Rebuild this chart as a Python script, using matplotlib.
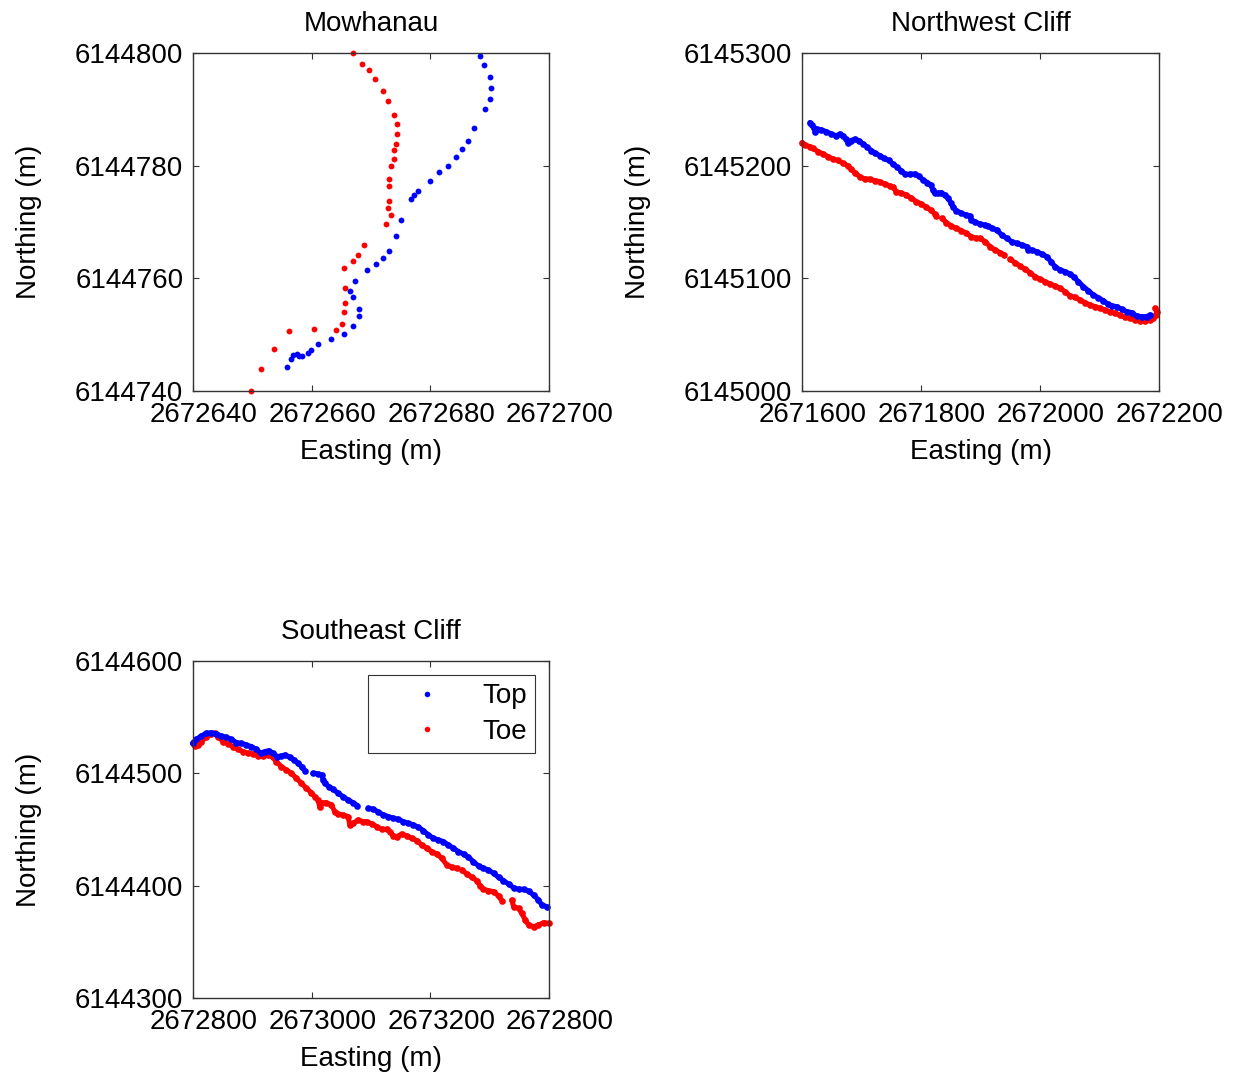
"""
Cliff top / toe positions at three sites (Mowhanau, Northwest and Southeast cliffs).
"""
import numpy as np
import matplotlib
matplotlib.use("Agg")
import matplotlib.pyplot as plt
import matplotlib.transforms as mtransforms
from matplotlib.lines import Line2D

plt.rcParams["font.family"] = ["Liberation Sans", "DejaVu Sans"]
FS = 20
AX_C = "#333333"
TOP_C = "#0000ff"
TOE_C = "#ff0000"
nan = np.nan

# ── Mowhanau (offsets from 2672640 E / 6144740 N) ─────────────────────────
MOW_E0, MOW_N0 = 2672640, 6144740
mow_top_e = [48.3, 49.0, 50.0, 50.3, 50.1, 49.2, 47.4, 46.3, 45.4, 44.3,
             42.9, 41.4, 40.0, 37.9, 37.2, 36.7, 35.1, 34.2, 33.0, 32.0,
             30.8, 29.4, 27.3, 26.4, 26.9, 28.0, 28.0, 27.0, 25.5, 23.2,
             21.1, 19.9, 19.3, 18.3, 17.8, 17.5, 16.9, 16.5, 15.8]
mow_top_n = [59.4, 57.8, 55.7, 53.8, 51.9, 50.0, 46.6, 44.3, 43.0, 41.5,
             40.0, 38.8, 37.3, 35.5, 34.8, 34.0, 30.4, 27.5, 24.9, 23.6,
             22.6, 21.5, 19.5, 17.7, 16.6, 14.6, 13.4, 11.5, 10.2, 9.2,
             8.4, 7.3, 6.7, 6.2, 6.2, 6.6, 6.4, 5.6, 4.2]
mow_toe_e = [26.9, 28.4, 29.7, 30.7, 32.1, 32.9, 33.8, 34.3, 34.3, 34.2,
             33.9, 33.8, 33.3, 33.0, 33.0, 33.0, 32.9, 33.4, 32.5, 28.8,
             27.8, 27.0, 25.4, 25.7, 25.7, 25.5, 25.1, 24.1, 20.4, 16.2,
             13.6, 11.5, 9.7]
mow_toe_n = [60.0, 58.1, 57.0, 55.3, 53.3, 51.5, 49.0, 47.4, 45.6, 43.9,
             42.7, 41.2, 40.0, 37.6, 36.4, 33.7, 32.4, 31.3, 29.6, 25.9,
             24.2, 23.0, 21.9, 18.3, 15.7, 14.0, 11.9, 10.9, 11.0, 10.7,
             7.4, 3.9, 0.0]

# ── Northwest Cliff (offsets from 2671600 E / 6145000 N) ──────────────────
NW_E0, NW_N0 = 2671600, 6145000
nw_top_e = [13.4, 16.8, 20.2, 22.4, 25.8, 32.5, 40.9, 49.3, 57.7, 63.3,
            68.9, 74.5, 77.3, 81.8, 88.5, 95.2, 102.5, 109.8, 116.5, 123.2,
            130.5, 137.8, 145.7, 152.9, 160.2, 166.9, 173.7, 181.0, 189.4, 196.1,
            203.4, 210.6, 216.3, 220.2, 223.0, 228.6, 234.2, 239.8, 245.4, 249.9,
            253.8, 259.4, 267.8, 276.2, 281.8, 284.6, 290.2, 298.6, 307.0, 312.6,
            318.8, 327.2, 335.6, 344.0, 352.4, 360.8, 369.2, 377.6, 380.4, 386.0,
            394.4, 402.8, 411.2, 418.5, 425.2, 433.6, 442.0, 450.4, 457.7, 464.4,
            472.8, 481.2, 489.6, 498.0, 506.4, 513.7, 520.5, 528.9, 537.3, 545.7,
            554.1, 562.5, 570.9, 579.3, 584.9]
nw_top_n = [238.3, 236.2, 233.3, 230.0, 232.4, 231.8, 230.3, 228.2, 226.5, 228.2,
            226.5, 223.5, 220.0, 222.3, 223.5, 222.3, 219.4, 216.4, 213.4, 211.1,
            209.0, 206.6, 204.6, 201.6, 198.6, 195.4, 192.4, 192.4, 192.7, 190.9,
            187.4, 185.0, 182.9, 178.5, 175.5, 175.5, 176.1, 174.1, 171.1, 167.3,
            163.1, 160.2, 157.8, 156.3, 155.4, 151.9, 150.4, 148.3, 147.4, 146.5,
            144.5, 143.0, 138.5, 135.6, 132.6, 131.1, 129.7, 128.2, 125.2, 125.2,
            123.7, 121.7, 119.3, 114.9, 110.4, 107.5, 106.0, 103.9, 100.9, 97.1,
            92.7, 89.1, 85.3, 82.9, 80.2, 77.3, 75.5, 74.9, 72.5, 70.5,
            69.6, 66.6, 66.0, 66.0, 67.5]
nw_toe_e = [0.0, 4.5, 12.9, 18.5, 26.9, 35.3, 43.7, 52.1, 60.5, 68.9,
            77.3, 82.9, 88.5, 96.9, 105.3, 113.7, 122.1, 130.5, 138.9, 147.3,
            152.9, 158.5, 166.9, 175.3, 183.8, 192.2, 200.6, 209.0, 216.3, 223.0,
            225.8, nan, 235.3, 242.6, 251.0, 259.4, 267.8, 276.2, 284.6, 293.0,
            299.2, 307.6, 316.0, 324.4, 332.8, 340.1, nan, 349.6, 358.0, 366.4,
            374.8, 383.2, 391.6, 400.0, 408.4, 416.8, 425.2, 433.6, 442.0, 450.4,
            458.8, 467.2, 475.6, 484.0, 492.4, 500.8, 509.2, 517.6, 526.1, 534.5,
            542.9, 551.3, 559.7, 568.1, 576.5, 584.9, 590.5, 594.4, 596.1, 593.3]
nw_toe_n = [220.5, 218.5, 217.0, 215.5, 212.5, 210.5, 208.1, 206.0, 204.6, 202.2,
            199.8, 196.9, 193.9, 190.3, 188.3, 188.0, 186.8, 185.9, 183.8, 182.1,
            180.9, 177.0, 175.5, 174.1, 171.1, 168.1, 166.1, 163.1, 160.7, 157.2,
            155.4, nan, 153.3, 149.5, 146.5, 144.5, 142.4, 140.0, 137.1, 135.6,
            135.6, 132.6, 128.2, 125.2, 122.9, 120.8, nan, 116.9, 114.0, 111.0,
            108.1, 105.1, 101.5, 99.2, 97.1, 95.0, 93.3, 91.2, 88.2, 84.4,
            83.2, 80.8, 78.4, 76.4, 74.9, 73.4, 71.9, 70.5, 69.0, 67.5,
            65.4, 64.5, 63.1, 62.5, 62.5, 63.1, 64.5, 67.5, 70.5, 73.4]

# ── Southeast Cliff (offsets from 2672800 E / 6144300 N) ──────────────────
SE_E0, SE_N0 = 2672800, 6144300
se_top_e = [0.0, 5.6, 14.0, 22.5, 30.9, 39.3, 47.8, 56.2, 64.6, 73.1,
            81.5, 89.9, 98.4, 106.8, 114.1, 120.9, 127.6, 134.9, 142.2, 149.0,
            155.7, 163.0, 170.3, 177.1, 183.8, 188.3, nan, 202.4, 210.8, 217.5,
            219.2, 222.0, 228.8, 236.1, 244.5, 253.0, 261.4, 269.8, 277.1, nan,
            295.7, 304.1, 311.4, 321.0, 329.4, 337.8, 346.3, 354.7, 363.1, 371.6,
            380.0, 388.4, 396.9, 405.3, 413.7, 422.1, 430.6, 439.0, 447.4, 455.9,
            464.3, 472.7, 481.2, 489.6, 498.0, 506.5, 514.9, 523.3, 531.8, 540.2,
            548.6, 557.1, 565.5, 573.9, 582.3, 588.0, 596.4]
se_top_n = [227.4, 230.3, 233.3, 235.7, 236.3, 235.1, 233.3, 232.1, 230.3, 227.4,
            226.8, 225.3, 223.8, 221.4, 217.9, 219.4, 220.2, 217.9, 214.9, 215.5,
            216.4, 214.3, 211.9, 209.0, 205.4, 202.4, nan, 200.1, 199.5, 198.6,
            194.1, 191.2, 188.2, 185.8, 182.3, 179.3, 176.3, 173.9, 171.3, nan,
            168.9, 168.0, 165.9, 163.0, 161.5, 160.0, 159.1, 157.0, 155.5, 154.1,
            152.0, 149.0, 145.1, 142.2, 140.7, 139.2, 136.2, 133.3, 130.3, 128.2,
            125.3, 121.4, 117.5, 115.5, 114.0, 111.0, 107.5, 104.5, 101.5, 98.2,
            96.8, 96.8, 95.3, 91.7, 87.3, 82.8, 81.3]
se_toe_e = [0.0, 2.8, 8.4, 14.0, 22.5, 30.9, 36.5, 42.2, 50.6, 59.0,
            67.5, 75.9, 84.3, 92.7, 101.2, 109.6, 118.0, 126.5, 134.9, 140.5,
            149.0, 157.4, 165.8, 174.3, 182.7, 191.1, 199.5, 205.2, 210.8, 213.6,
            216.4, 224.8, 233.3, 238.9, 244.5, 253.0, 261.4, 264.2, 269.8, 278.2,
            286.7, 292.9, 301.3, 309.7, 318.2, 326.6, 332.2, 337.8, 343.5, 351.9,
            360.3, 368.8, 377.2, 385.6, 394.0, 402.5, 410.9, 419.3, 427.8, 436.2,
            444.6, nan, 453.1, 461.5, 469.9, 478.4, 484.0, 489.6, 498.0, 506.5,
            514.9, 520.5, nan, 537.4, 540.2, 548.6, 554.2, 559.9, 565.5, 573.9,
            582.3, 590.8, 599.2]
se_toe_n = [226.8, 224.4, 225.3, 228.3, 232.1, 235.1, 235.7, 232.7, 228.3, 226.2,
            223.8, 221.4, 219.4, 217.9, 217.3, 215.5, 215.5, 216.4, 214.3, 210.4,
            206.0, 203.0, 200.1, 195.6, 191.2, 186.7, 182.8, 179.3, 176.3, 169.8,
            173.9, 173.9, 171.9, 165.9, 163.6, 163.0, 161.5, 154.1, 155.5, 158.5,
            157.0, 157.0, 154.9, 152.6, 150.2, 150.2, 148.1, 144.3, 143.7, 146.0,
            144.3, 142.2, 140.1, 136.2, 133.3, 130.3, 128.2, 124.4, 118.4, 116.4,
            115.5, nan, 114.0, 110.4, 107.5, 104.5, 99.7, 96.8, 95.6, 94.7,
            90.8, 86.7, nan, 87.3, 81.3, 79.8, 75.4, 69.5, 65.0, 63.5,
            65.0, 67.1, 66.5]

# axis limits / ticks
MOW_XTICKS = [2672640, 2672660, 2672680, 2672700]
MOW_YTICKS = [6144740, 6144760, 6144780, 6144800]
NW_XTICKS = [2671600, 2671800, 2672000, 2672200]
NW_YTICKS = [6145000, 6145100, 6145200, 6145300]
SE_XTICKS = [2672800, 2673000, 2673200, 2673400]
SE_XTICKLABELS = ["2672800", "2673000", "2673200", "2672800"]
SE_YTICKS = [6144300, 6144400, 6144500, 6144600]


def style_axes(ax, title, xticks, yticks, xlabels=None):
    ax.set_xlim(xticks[0], xticks[-1])
    ax.set_ylim(yticks[0], yticks[-1])
    ax.set_xticks(xticks)
    ax.set_yticks(yticks)
    ax.set_xticklabels(xlabels if xlabels else [str(t) for t in xticks])
    ax.set_yticklabels([str(t) for t in yticks])
    ax.set_title(title, fontsize=FS, pad=16)
    ax.set_xlabel("Easting (m)", fontsize=FS, labelpad=8)
    ax.set_ylabel("Northing (m)", fontsize=FS, labelpad=24)
    ax.tick_params(direction="in", length=4, width=0.8, top=True, right=True,
                   labelsize=FS, pad=7, color=AX_C)
    ax.tick_params(axis="x", pad=8)
    # x tick labels sit a little right of their ticks in the original export
    shift = mtransforms.ScaledTranslation(11 / 100, 0, fig.dpi_scale_trans)
    for lab in ax.get_xticklabels():
        lab.set_transform(lab.get_transform() + shift)
    for s in ax.spines.values():
        s.set_color(AX_C)
        s.set_linewidth(1.0)


def cliff_line(ax, e0, n0, e, n, colour):
    ax.plot(e0 + np.array(e), n0 + np.array(n), "-o", color=colour, lw=3.6,
            ms=4.8, mec="none", solid_capstyle="round",
            solid_joinstyle="round", clip_on=False)


fig = plt.figure(figsize=(12.34, 10.73), dpi=100)
fig.patch.set_facecolor("white")

W, H = 1234, 1073
def add_ax(left, top, right, bottom):
    return fig.add_axes([left / W, 1 - bottom / H, (right - left) / W, (bottom - top) / H])

ax1 = add_ax(193, 53, 549, 391)
ax2 = add_ax(802, 53, 1159, 391)
ax3 = add_ax(193, 661, 549, 998)

# Mowhanau: sparse survey points
ax1.plot(MOW_E0 + np.array(mow_toe_e), MOW_N0 + np.array(mow_toe_n), "o",
         color=TOE_C, ms=4.2, mec="none", clip_on=False)
ax1.plot(MOW_E0 + np.array(mow_top_e), MOW_N0 + np.array(mow_top_n), "o",
         color=TOP_C, ms=4.2, mec="none", clip_on=False)
style_axes(ax1, "Mowhanau", MOW_XTICKS, MOW_YTICKS)

cliff_line(ax2, NW_E0, NW_N0, nw_toe_e, nw_toe_n, TOE_C)
cliff_line(ax2, NW_E0, NW_N0, nw_top_e, nw_top_n, TOP_C)
style_axes(ax2, "Northwest Cliff", NW_XTICKS, NW_YTICKS)

cliff_line(ax3, SE_E0, SE_N0, se_toe_e, se_toe_n, TOE_C)
cliff_line(ax3, SE_E0, SE_N0, se_top_e, se_top_n, TOP_C)
style_axes(ax3, "Southeast Cliff", SE_XTICKS, SE_YTICKS, SE_XTICKLABELS)

handles = [
    Line2D([], [], ls="none", marker="o", ms=4, color=TOP_C, mec="none", label="Top"),
    Line2D([], [], ls="none", marker="o", ms=4, color=TOE_C, mec="none", label="Toe"),
]
leg = ax3.legend(handles=handles, loc="upper right", fontsize=FS, fancybox=False,
                 edgecolor=AX_C, framealpha=1, handlelength=3.6, handletextpad=0.2,
                 borderpad=0.3, labelspacing=0.35, borderaxespad=0.5)
leg.get_frame().set_linewidth(0.8)

fig.savefig("out.png", dpi=100, facecolor="white")
